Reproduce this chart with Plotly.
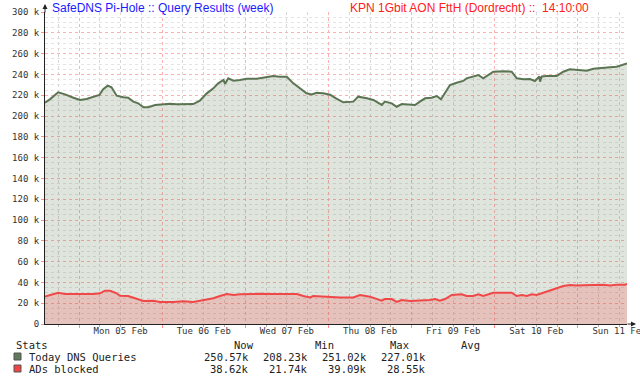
import plotly.graph_objects as go

# ---- data (hours since Sun 04 Feb 14:10, values in thousands) ----
dns_hours = [0, 1.4, 3.8, 5.8, 8.2, 10.1, 12.0, 13.9, 15.7, 16.8, 18.1, 19.2, 20.7, 22.6, 24.0,
             25.5, 26.9, 28.4, 29.8, 31.8, 33.7, 36.1, 38.0, 40.9, 42.8, 44.7, 46.7, 48.6, 50.0,
             51.5, 52.0, 52.9, 54.4, 56.3, 58.2, 61.1, 64.0, 65.9, 67.8, 69.8, 71.7, 73.6, 75.5,
             77.0, 78.4, 80.3, 82.3, 84.0, 86.1, 89.0, 90.4, 92.9, 94.8, 97.2, 98.1, 100.1,
             101.5, 103.0, 105.4, 106.8, 108.2, 109.7, 111.6, 113.1, 114.3, 115.5, 116.9, 118.8,
             120.7, 121.7, 123.6, 125.1, 126.5, 128.0, 129.4, 132.3, 134.7, 136.2, 138.1, 140.0,
             141.4, 142.7, 142.9, 143.4, 144.8, 147.7, 149.6, 151.5, 154.4, 156.4, 158.3, 161.2,
             163.1, 165.0, 166.9, 168.0]
dns_queries = [212.8, 216.0, 222.8, 220.8, 217.6, 215.4, 216.3, 218.6, 220.2, 225.7, 229.2, 227.6,
               219.5, 218.0, 217.6, 213.8, 212.2, 208.4, 208.4, 210.6, 210.9, 211.8, 211.2, 211.8,
               211.5, 214.7, 221.8, 226.6, 231.4, 234.6, 231.0, 236.2, 234.0, 234.6, 235.9, 235.9,
               237.2, 238.5, 237.8, 237.8, 231.4, 226.6, 221.8, 220.8, 222.4, 221.8, 220.5, 217.0,
               213.2, 213.8, 218.6, 217.0, 215.4, 210.6, 213.8, 212.2, 208.9, 211.5, 210.6, 210.6,
               213.8, 217.0, 217.6, 219.2, 216.0, 221.8, 229.8, 232.0, 233.7, 236.2, 237.8, 239.4,
               236.2, 239.4, 242.6, 243.0, 242.6, 236.2, 235.3, 235.6, 233.7, 238.0, 233.0, 238.0,
               238.5, 238.5, 242.6, 244.9, 244.2, 243.5, 245.5, 245.9, 246.8, 247.4, 249.0, 250.5]

ads_hours = [0, 1.9, 3.8, 5.8, 8.2, 11.1, 13.9, 15.9, 17.3, 18.8, 20.7, 21.6, 24.0, 26.0, 28.4,
             31.3, 33.2, 37.0, 39.9, 42.8, 44.7, 46.7, 48.6, 50.5, 52.5, 54.4, 56.3, 60.1, 62.1,
             65.9, 69.8, 72.7, 74.6, 76.5, 77.4, 80.3, 85.2, 89.0, 90.9, 93.8, 97.2, 98.1, 100.1,
             101.5, 103.0, 105.4, 108.2, 111.1, 112.6, 114.0, 115.5, 117.4, 120.3, 121.7, 123.6,
             125.1, 126.5, 128.0, 129.4, 134.7, 136.2, 137.6, 139.1, 140.5, 141.9, 143.4, 145.8,
             147.7, 149.6, 151.5, 153.5, 155.4, 159.3, 161.2, 163.1, 165.0, 167.4, 168.0]
ads_blocked = [26.3, 27.9, 30.1, 28.8, 28.8, 28.5, 28.8, 29.5, 32.0, 32.0, 29.5, 27.2, 26.9, 24.7,
               22.1, 22.4, 21.2, 21.2, 21.8, 21.2, 22.4, 24.0, 24.7, 26.9, 28.8, 27.9, 28.5, 28.8,
               29.1, 28.8, 29.1, 28.8, 26.9, 25.6, 26.9, 26.3, 25.6, 25.6, 27.9, 26.3, 22.4, 24.0,
               24.0, 21.2, 23.1, 22.1, 22.4, 23.1, 24.0, 22.4, 24.0, 27.9, 28.5, 26.9, 26.9, 28.5,
               26.9, 28.8, 30.1, 30.1, 26.9, 27.9, 26.9, 28.5, 27.9, 29.5, 32.0, 34.3, 36.5, 37.5,
               36.9, 37.3, 37.3, 37.8, 37.0, 37.8, 37.8, 38.6]

first_midnight = 9.8333          # Mon 05 Feb 00:00, hours after start
day_labels = ["Mon 05 Feb", "Tue 06 Feb", "Wed 07 Feb", "Thu 08 Feb",
              "Fri 09 Feb", "Sat 10 Feb", "Sun 11 Feb"]
y_ticks = [0, 20, 40, 60, 80, 100, 120, 140, 160, 180, 200, 220, 240, 260, 280, 300]
y_ticktext = ["0" if v == 0 else f"{v} k" for v in y_ticks]

series_names = ["Today DNS Queries", "ADs blocked"]
stat_now = ["250.57k", "38.62k"]
stat_min = ["208.23k", "21.74k"]
stat_max = ["251.02k", "39.09k"]
stat_avg = ["227.01k", "28.55k"]

title_left = "SafeDNS Pi-Hole :: Query Results (week)"
title_right = "KPN 1Gbit AON FttH (Dordrecht) ::  14:10:00"

# ---- figure ----
W, H = 640, 380
L, R, T, B = 45, 13, 12, 56
PW, PH = W - L - R, H - T - B

def px(x):
    return (x - L) / PW

def py(y):
    return (H - B - y) / PH

green_line = "#5b7553"
red_line = "#f04848"

fig = go.Figure()
fig.add_trace(go.Scatter(x=dns_hours, y=dns_queries, mode="lines", fill="tozeroy",
                         line=dict(color=green_line, width=2),
                         fillcolor="rgba(95,122,86,0.2)", hoverinfo="skip"))
fig.add_trace(go.Scatter(x=ads_hours, y=ads_blocked, mode="lines", fill="tozeroy",
                         line=dict(color=red_line, width=2),
                         fillcolor="rgba(255,60,60,0.2)", hoverinfo="skip"))
# invisible trace to carry the day-label axis
noon = [first_midnight + 12 + 24 * i for i in range(len(day_labels))]
fig.add_trace(go.Scatter(x=noon, y=[None] * len(noon), xaxis="x2", showlegend=False,
                         hoverinfo="skip"))

mono = "DejaVu Sans Mono"
fig.update_layout(
    width=W, height=H, autosize=False,
    margin=dict(l=L, r=R, t=T, b=B, pad=0, autoexpand=False),
    paper_bgcolor="white", plot_bgcolor="white",
    showlegend=False,
    xaxis=dict(range=[0, 168], showticklabels=False, tick0=first_midnight, dtick=24,
               showgrid=True, gridcolor="#ffb0b0", griddash="dot", gridwidth=1,
               ticks="outside", ticklen=3, tickcolor="#ff9090", zeroline=False,
               minor=dict(tick0=first_midnight, dtick=6, showgrid=True, gridcolor="#d6d6d6",
                          griddash="dot", ticks="outside", ticklen=2, tickcolor="#b0b0b0"),
               showline=True, linecolor="#222222", linewidth=1,
               fixedrange=True, automargin=False),
    xaxis2=dict(range=[0, 168], overlaying="x", side="bottom", anchor="y",
                tickmode="array", tickvals=noon, ticktext=day_labels, ticks="",
                showgrid=False, zeroline=False, showline=False, automargin=False,
                ticklabeloverflow="allow",
                tickfont=dict(family=mono, size=9, color="#333333"), fixedrange=True),
    yaxis=dict(range=[0, 300], tickmode="array", tickvals=y_ticks, ticktext=y_ticktext,
               showgrid=True, gridcolor="#ffb0b0", griddash="dot", gridwidth=1,
               ticks="outside", ticklen=3, tickcolor="#ff9090", zeroline=False,
               minor=dict(dtick=5, showgrid=True, gridcolor="#e4e4e4", griddash="dot"),
               tickfont=dict(family=mono, size=9, color="#333333"),
               showline=True, linecolor="#222222", linewidth=1,
               fixedrange=True, automargin=False, ticklabeloverflow="allow"),
)

shapes = []
# legend squares
for i, col in enumerate(["#5e7a58", "#f04545"]):
    y0 = 353 + 12 * i
    shapes.append(dict(type="rect", xref="paper", yref="paper", x0=px(14), x1=px(21),
                       y0=py(y0 + 7), y1=py(y0), fillcolor=col,
                       line=dict(color="#555555", width=1)))
fig.update_layout(shapes=shapes)

ann = []
# axis arrows
ann.append(dict(text="", x=px(45), y=py(4), xref="paper", yref="paper", showarrow=True,
                ax=0, ay=10, arrowhead=2, arrowsize=1, arrowwidth=1, arrowcolor="#222222"))
ann.append(dict(text="", x=px(636), y=py(324), xref="paper", yref="paper", showarrow=True,
                ax=-10, ay=0, arrowhead=2, arrowsize=1, arrowwidth=1, arrowcolor="#222222"))

sans = "Liberation Sans"
ann.append(dict(text=title_left, x=px(50), y=py(8), xref="paper", yref="paper",
                xanchor="left", yanchor="middle", showarrow=False,
                font=dict(family=sans, size=12, color="#1a1aff")))
ann.append(dict(text=title_right, x=px(348), y=py(8), xref="paper", yref="paper",
                xanchor="left", yanchor="middle", showarrow=False,
                font=dict(family=sans, size=12, color="#ff2020")))

lf = dict(family=mono, size=10.5, color="#222222")
def txt(s, x, y, anchor="left"):
    ann.append(dict(text=s, x=px(x), y=py(y), xref="paper", yref="paper",
                    xanchor=anchor, yanchor="middle", showarrow=False, font=lf))

txt("Stats", 14, 345)
txt("Now", 256, 345, "right")
txt("Min", 313, 345)
txt("Max", 388, 345)
txt("Avg", 459, 345)
for i, name in enumerate(series_names):
    y = 357 + 12 * i
    txt(name, 27, y)
    txt(stat_now[i], 251, y, "right")
    txt(stat_min[i], 310, y, "right")
    txt(stat_max[i], 369, y, "right")
    txt(stat_avg[i], 428, y, "right")
fig.update_layout(annotations=ann)

fig.write_html("out.html", config={"displayModeBar": False},
               post_script="document.body.style.margin='0';document.body.style.overflow='hidden';")
